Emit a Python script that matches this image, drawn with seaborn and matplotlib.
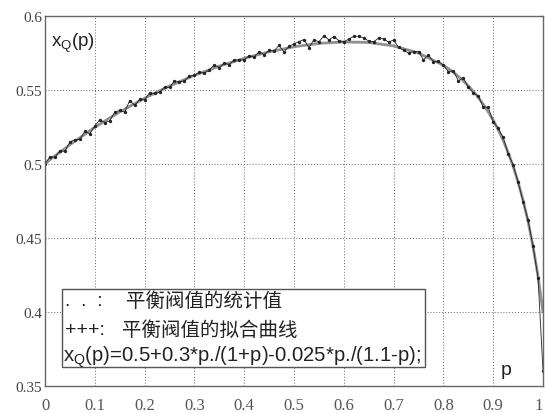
import pandas as pd
import seaborn as sns
import matplotlib
matplotlib.use("Agg")
from matplotlib import pyplot as plt
from matplotlib.patches import Rectangle

# p from 0 to 1 in steps of 0.01
p_vals = [i / 100 for i in range(101)]

# fitted curve
fit_vals = [
    0.5000, 0.5030, 0.5055, 0.5080, 0.5105, 0.5130, 0.5154, 0.5177, 0.5201, 0.5224,
    0.5248, 0.5269, 0.5290, 0.5311, 0.5331, 0.5352, 0.5370, 0.5389, 0.5407, 0.5426,
    0.5444, 0.5461, 0.5477, 0.5494, 0.5510, 0.5527, 0.5541, 0.5556, 0.5570, 0.5585,
    0.5599, 0.5611, 0.5624, 0.5636, 0.5649, 0.5661, 0.5672, 0.5682, 0.5693, 0.5703,
    0.5714, 0.5723, 0.5732, 0.5740, 0.5749, 0.5758, 0.5765, 0.5771, 0.5778, 0.5785,
    0.5792, 0.5797, 0.5801, 0.5806, 0.5810, 0.5815, 0.5817, 0.5819, 0.5821, 0.5823,
    0.5825, 0.5824, 0.5823, 0.5823, 0.5822, 0.5821, 0.5816, 0.5812, 0.5807, 0.5803,
    0.5798, 0.5788, 0.5779, 0.5769, 0.5760, 0.5750, 0.5733, 0.5717, 0.5700, 0.5684,
    0.5667, 0.5644, 0.5620, 0.5592, 0.5562, 0.5528, 0.5491, 0.5450, 0.5404, 0.5353,
    0.5296, 0.5232, 0.5160, 0.5078, 0.4985, 0.4878, 0.4755, 0.4612, 0.4443, 0.4243,
    0.4000,
]

# statistical values (the dotted, noisy series)
stat_vals = [
    0.5000, 0.5050, 0.5045, 0.5090, 0.5085, 0.5150, 0.5164, 0.5167, 0.5221, 0.5204,
    0.5258, 0.5299, 0.5280, 0.5291, 0.5351, 0.5362, 0.5350, 0.5429, 0.5397, 0.5436,
    0.5434, 0.5481, 0.5477, 0.5484, 0.5520, 0.5517, 0.5561, 0.5556, 0.5560, 0.5595,
    0.5599, 0.5621, 0.5614, 0.5636, 0.5669, 0.5651, 0.5682, 0.5672, 0.5703, 0.5703,
    0.5704, 0.5733, 0.5722, 0.5760, 0.5739, 0.5768, 0.5765, 0.5801, 0.5758, 0.5795,
    0.5812, 0.5827, 0.5841, 0.5786, 0.5840, 0.5825, 0.5867, 0.5839, 0.5861, 0.5833,
    0.5825, 0.5844, 0.5863, 0.5863, 0.5852, 0.5831, 0.5826, 0.5852, 0.5847, 0.5823,
    0.5838, 0.5788, 0.5769, 0.5749, 0.5760, 0.5760, 0.5703, 0.5737, 0.5690, 0.5694,
    0.5667, 0.5624, 0.5630, 0.5562, 0.5582, 0.5518, 0.5481, 0.5460, 0.5384, 0.5383,
    0.5286, 0.5242, 0.5180, 0.5068, 0.4995, 0.4878, 0.4745, 0.4622, 0.4443, 0.4233,
    0.3600,
]

x_ticks = [0, 0.1, 0.2, 0.3, 0.4, 0.5, 0.6, 0.7, 0.8, 0.9, 1]
x_labels = ["0", "0.1", "0.2", "0.3", "0.4", "0.5", "0.6", "0.7", "0.8", "0.9", "1"]
y_ticks = [0.35, 0.4, 0.45, 0.5, 0.55, 0.6]
y_labels = ["0.35", "0.4", "0.45", "0.5", "0.55", "0.6"]

legend_marks = [".  .  :", "+++:"]
legend_names = ["平衡阀值的统计值", "平衡阀值的拟合曲线"]
formula = r"x$_\mathrm{Q}$(p)=0.5+0.3*p./(1+p)-0.025*p./(1.1-p);"

df = pd.DataFrame({"p": p_vals, "fit": fit_vals, "stat": stat_vals})

sns.set_style("white")
plt.rcParams["font.family"] = ["Liberation Sans", "Noto Sans CJK SC", "DejaVu Sans"]
plt.rcParams["mathtext.fontset"] = "custom"
plt.rcParams["mathtext.rm"] = "Liberation Sans"

fig = plt.figure(figsize=(5.45, 4.14), dpi=100)
ax = fig.add_axes([45 / 545, 27 / 414, 498 / 545, 370 / 414])

sns.lineplot(data=df, x="p", y="fit", ax=ax, color="#909090", linewidth=2.0)
sns.lineplot(data=df, x="p", y="stat", ax=ax, color="#222222", linewidth=0.6,
             marker="o", markersize=2.4, markeredgewidth=0)

ax.set_xlim(0, 1)
ax.set_ylim(0.35, 0.6)
ax.set_xticks(x_ticks)
ax.set_xticklabels(x_labels, family="Liberation Serif", fontsize=12, color="#555555")
ax.get_xticklabels()[-1].set_horizontalalignment("right")
ax.set_yticks(y_ticks)
ax.set_yticklabels(y_labels, family="Liberation Serif", fontsize=11, color="#444444")
ax.tick_params(direction="in", length=3, width=0.6, color="#555555")
ax.tick_params(axis="x", pad=8)
ax.tick_params(axis="y", pad=2)
ax.set_xlabel("")
ax.set_ylabel("")
ax.grid(True, linestyle=(0, (1, 2)), color="#666666", linewidth=0.7)
for s in ax.spines.values():
    s.set_color("#666666")
    s.set_linewidth(1.0)

ax.text(0.012, 0.93, r"x$_\mathrm{Q}$(p)", transform=ax.transAxes, fontsize=13.5,
        color="#222222", va="center")
ax.text(0.915, 0.045, "p", transform=ax.transAxes, fontsize=14, color="#222222",
        va="center")

ax.add_patch(Rectangle((0.034, 0.051), 0.729, 0.211, transform=ax.transAxes,
                       facecolor="white", edgecolor="#555555", linewidth=1.0, zorder=5))
mark_y = [0.232, 0.152]
name_x = [0.163, 0.155]
for mk, nm, yy, nx in zip(legend_marks, legend_names, mark_y, name_x):
    ax.text(0.04, yy, mk, transform=ax.transAxes, fontsize=14, color="#222222",
            va="center", zorder=6)
    ax.text(nx, yy, nm, family=["Noto Sans CJK SC", "DejaVu Sans"],
            transform=ax.transAxes, fontsize=14, color="#222222", va="center", zorder=6)
ax.text(0.037, 0.08, formula, transform=ax.transAxes, fontsize=14.6, color="#222222",
        va="center", zorder=6)

fig.savefig("out.png", dpi=100)
